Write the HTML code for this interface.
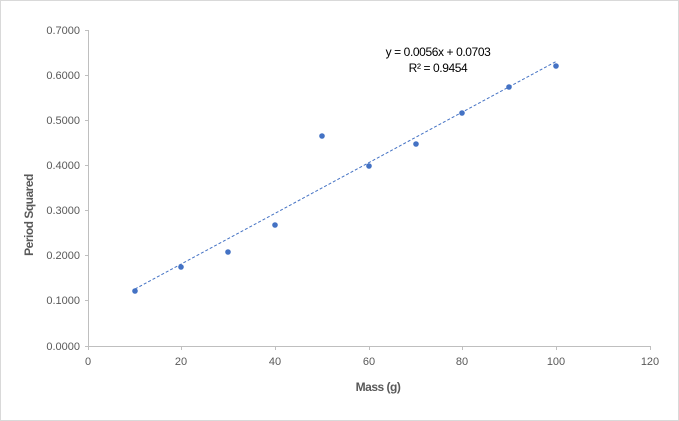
<!DOCTYPE html>
<html><head><style>body{margin:0;background:#fff}svg{display:block}text{font-family:"Liberation Sans",sans-serif}</style></head>
<body>
<svg width="679" height="421" viewBox="0 0 679 421">
<rect x="0.5" y="0.5" width="678" height="420" fill="#fff" stroke="#d9d9d9"/>
<g stroke="#bfbfbf" stroke-width="1">
<line x1="88.5" y1="30" x2="88.5" y2="346"/>
<line x1="88" y1="346.5" x2="650" y2="346.5"/>
<line x1="85" y1="30.5" x2="88" y2="30.5"/>
<line x1="85" y1="75.5" x2="88" y2="75.5"/>
<line x1="85" y1="120.5" x2="88" y2="120.5"/>
<line x1="85" y1="165.5" x2="88" y2="165.5"/>
<line x1="85" y1="210.5" x2="88" y2="210.5"/>
<line x1="85" y1="255.5" x2="88" y2="255.5"/>
<line x1="85" y1="300.5" x2="88" y2="300.5"/>
<line x1="85" y1="346.5" x2="88" y2="346.5"/>
<line x1="88.5" y1="346" x2="88.5" y2="350"/>
<line x1="181.5" y1="346" x2="181.5" y2="350"/>
<line x1="275.5" y1="346" x2="275.5" y2="350"/>
<line x1="369.5" y1="346" x2="369.5" y2="350"/>
<line x1="462.5" y1="346" x2="462.5" y2="350"/>
<line x1="556.5" y1="346" x2="556.5" y2="350"/>
<line x1="650.5" y1="346" x2="650.5" y2="350"/>
</g>
<g font-size="11" fill="#595959" text-anchor="end">
<text x="80" y="34">0.7000</text><text x="80" y="79">0.6000</text><text x="80" y="124">0.5000</text><text x="80" y="169">0.4000</text><text x="80" y="214">0.3000</text><text x="80" y="259">0.2000</text><text x="80" y="304">0.1000</text><text x="80" y="350">0.0000</text>
</g>
<g font-size="11" fill="#595959" text-anchor="middle">
<text x="88" y="365">0</text><text x="181" y="365">20</text><text x="275" y="365">40</text><text x="369" y="365">60</text><text x="462" y="365">80</text><text x="556" y="365">100</text><text x="650" y="365">120</text>
</g>
<text x="378" y="391" font-size="12" font-weight="bold" fill="#595959" text-anchor="middle" letter-spacing="-0.5">Mass (g)</text>
<text transform="translate(33,215) rotate(-90)" font-size="12" font-weight="bold" fill="#595959" text-anchor="middle" letter-spacing="-0.5">Period Squared</text>
<line x1="135" y1="289" x2="556" y2="61.5" stroke="#4472c4" stroke-width="1" stroke-dasharray="3,2"/>
<g fill="#4472c4">
<circle cx="135" cy="291" r="2.8"/><circle cx="181" cy="267" r="2.8"/><circle cx="228" cy="252" r="2.8"/><circle cx="275" cy="225" r="2.8"/><circle cx="322" cy="136" r="2.8"/><circle cx="369" cy="166" r="2.8"/><circle cx="416" cy="144" r="2.8"/><circle cx="462" cy="113" r="2.8"/><circle cx="509" cy="87" r="2.8"/><circle cx="556" cy="66" r="2.8"/>
</g>
<text x="438" y="56" font-size="12" fill="#000" text-anchor="middle" letter-spacing="-0.4">y = 0.0056x + 0.0703</text>
<text x="438" y="72" font-size="12" fill="#000" text-anchor="middle" letter-spacing="-0.4">R² = 0.9454</text>
</svg>
</body></html>
